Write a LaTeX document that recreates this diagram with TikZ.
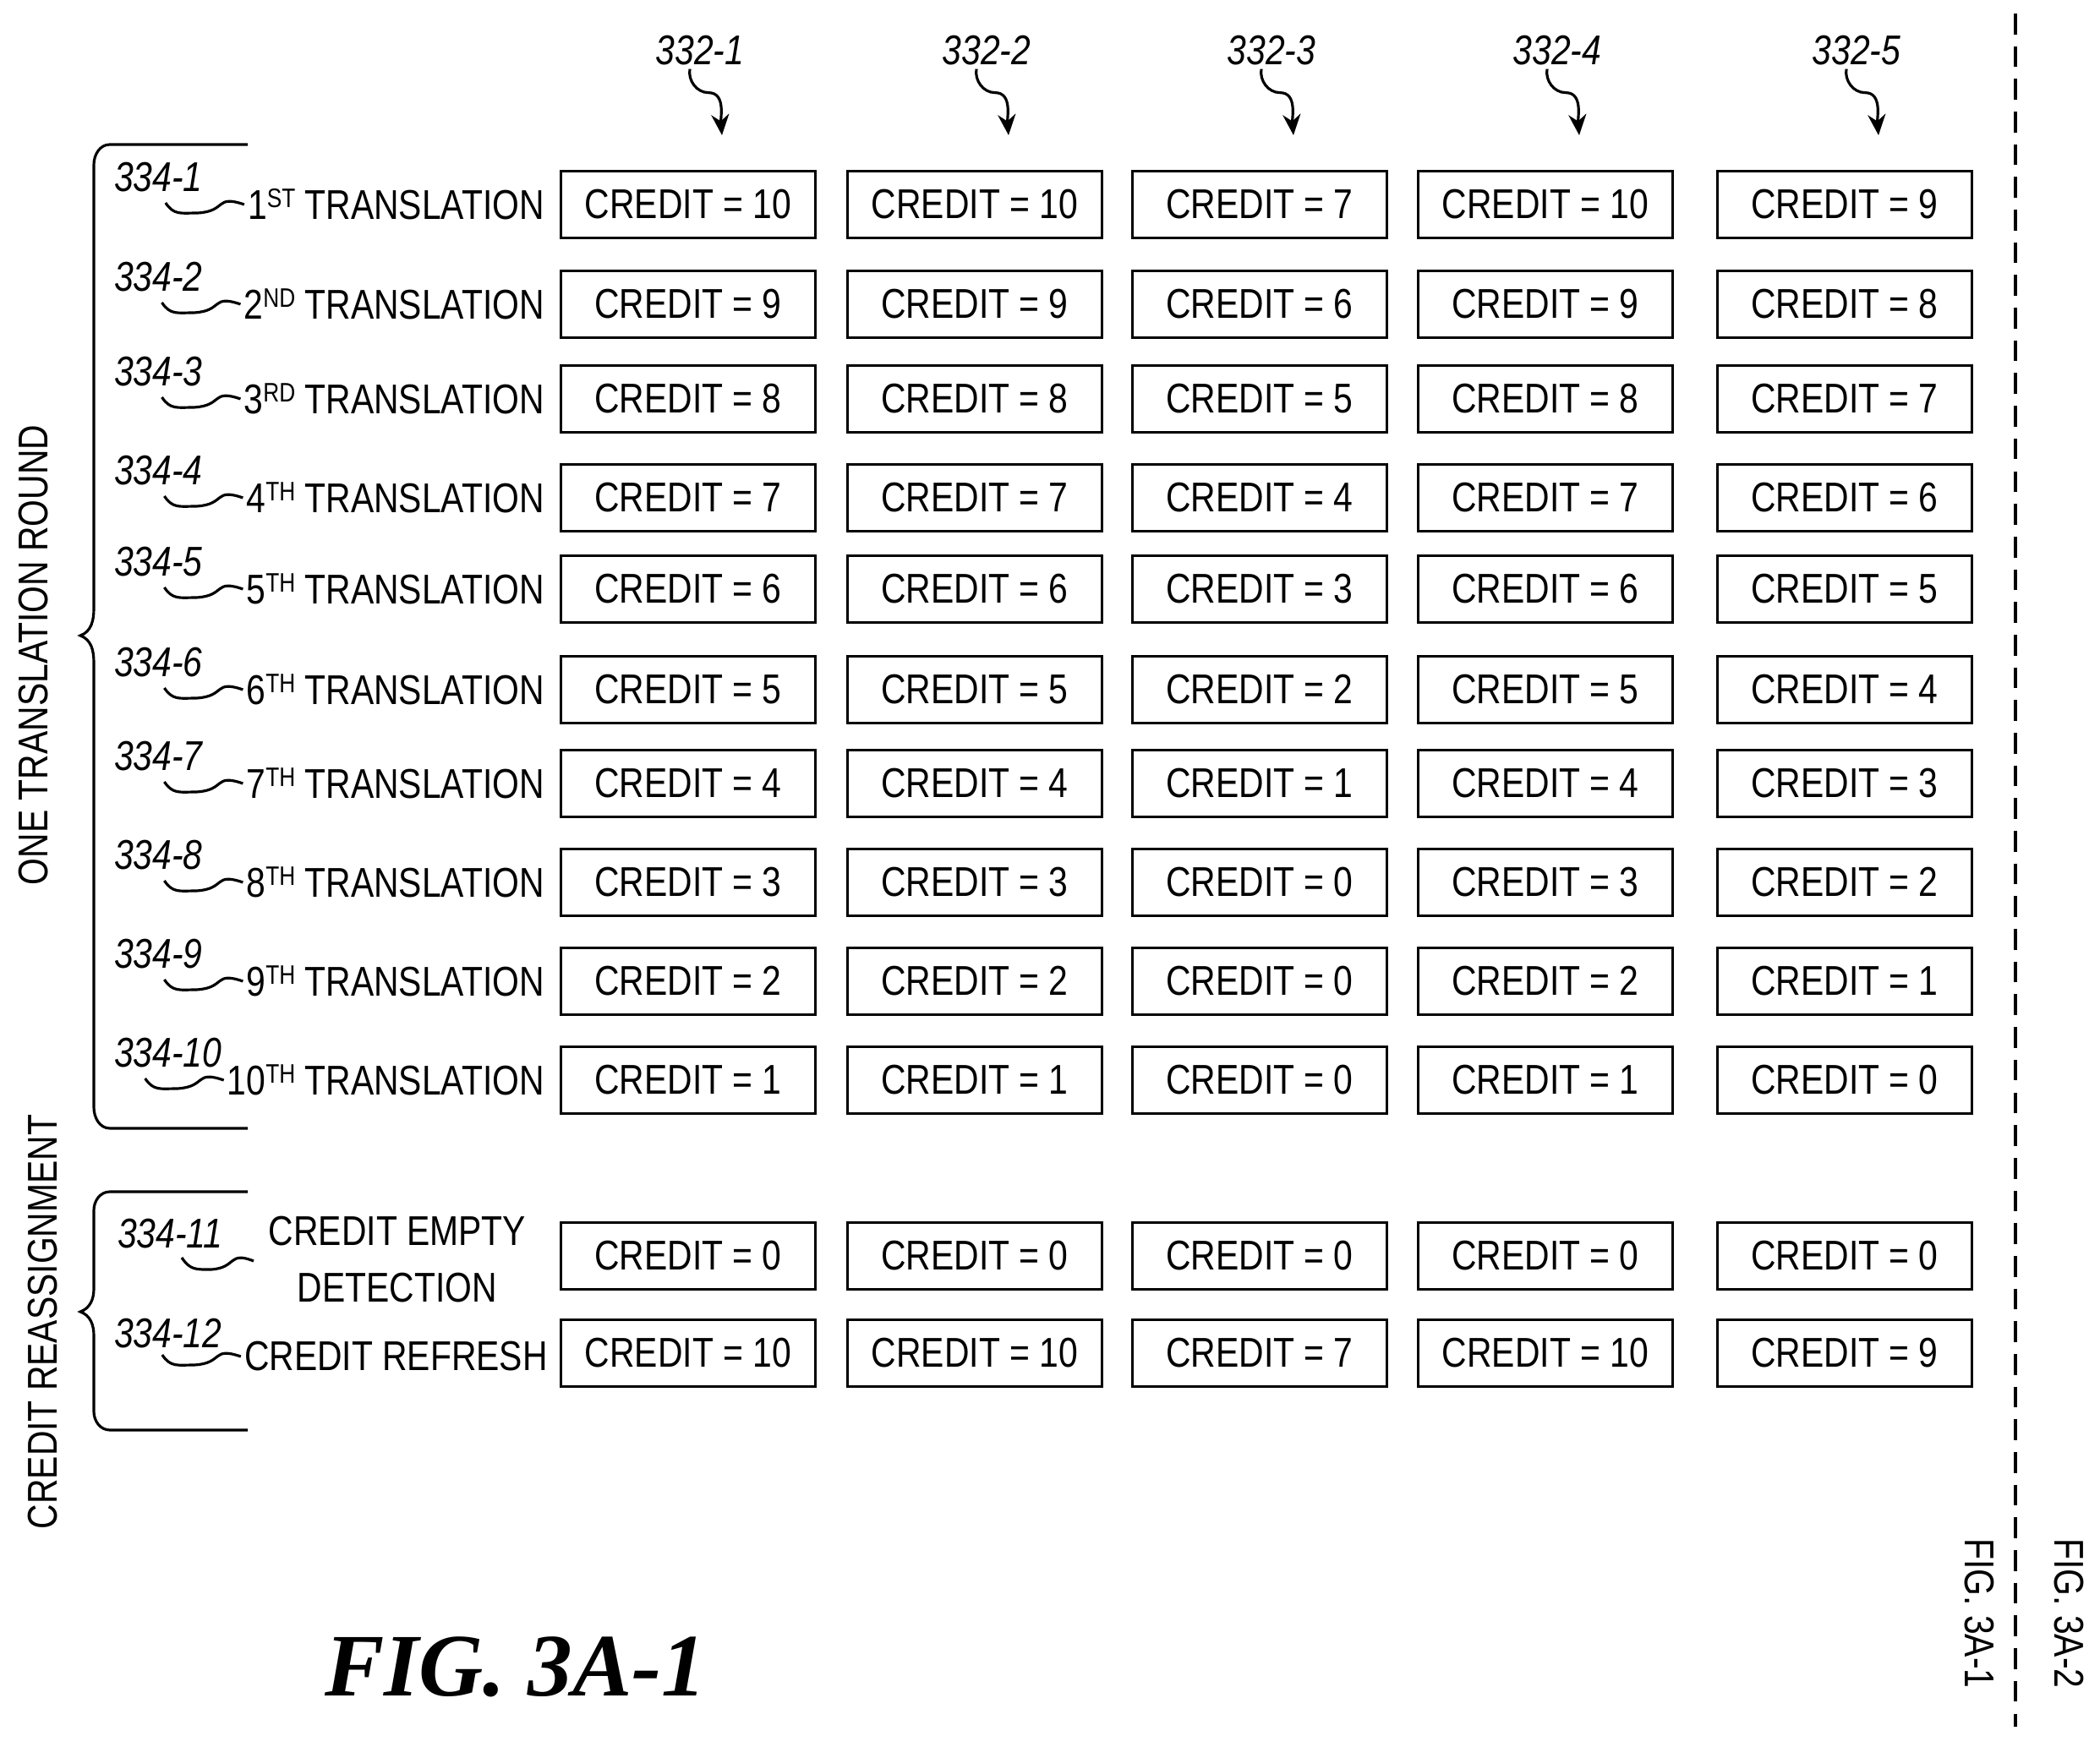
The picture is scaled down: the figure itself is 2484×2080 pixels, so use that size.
\documentclass[tikz,border=0pt]{standalone}
\usepackage{fontspec}
\setmainfont{Liberation Sans}[FakeStretch=0.83]
\newfontfamily\figfont{Liberation Serif}
\usetikzlibrary{arrows.meta}
\tikzset{
  lbl/.style={font=\fontsize{14}{16}\selectfont, inner sep=1pt},
  ref/.style={font=\fontsize{14}{16}\selectfont\itshape, inner sep=1pt},
  cbox/.style={draw, line width=0.9pt, minimum width=3.01cm, minimum height=0.79cm, font=\fontsize{14}{16}\selectfont, inner sep=0pt},
  squig/.style={line width=0.9pt},
  brace/.style={line width=0.9pt}
}
\newcommand{\sups}[1]{\raisebox{0.55ex}{\fontsize{9}{10}\selectfont #1}}
\begin{document}
\begin{tikzpicture}[x=0.01cm,y=-0.01cm]
\useasboundingbox (0,0) rectangle (2484,2080);
% columns
\foreach \cx [count=\c] in {814,1153,1490,1828,2182}{
  \node[ref] (h\c) at (\cx+14,60) {332-\c};
  \coordinate (ha\c) at (\cx+40,160);
  \draw[squig,-{Stealth[length=7pt,width=6pt]}] ([xshift=-0.12cm]h\c.south) to[out=-100,in=180] ++(22,28) to[out=0,in=95] (ha\c);
}
% rows
\foreach \ry/\n/\su/\vals in {
 242/1/ST/{10,10,7,10,9},
 360/2/ND/{9,9,6,9,8},
 472/3/RD/{8,8,5,8,7},
 589/4/TH/{7,7,4,7,6},
 697/5/TH/{6,6,3,6,5},
 816/6/TH/{5,5,2,5,4},
 927/7/TH/{4,4,1,4,3},
 1044/8/TH/{3,3,0,3,2},
 1161/9/TH/{2,2,0,2,1},
 1278/10/TH/{1,1,0,1,0}}{
  \node[lbl, anchor=east] (t\n) at (648,\ry) {\n\sups{\su} TRANSLATION};
  \node[ref, anchor=west] (r\n) at (131,\ry-32) {334-\n};
  \draw[squig] (t\n.west) .. controls ++(-35,-12) and ++(35,-2) .. ++(-55,10) .. controls ++(-20,0) and ++(10,15) .. ++(-38,-12);
  \foreach \v [count=\c] in \vals {
    \pgfmathsetmacro\cx{{814,1153,1490,1828,2182}[\c-1]}
    \node[cbox] (b\n-\c) at (\cx,\ry) {CREDIT = \v};
  }
}
% credit reassignment rows
\node[lbl, align=center] (t11) at (470,1490) {CREDIT EMPTY\\[0.1cm]DETECTION};
\node[ref, anchor=west] (r11) at (135,1460) {334-11};
\coordinate (s11) at (300,1492);
\draw[squig] (s11) .. controls ++(-30,-12) and ++(30,-2) .. ++(-50,10) .. controls ++(-18,0) and ++(10,15) .. ++(-35,-14);
\node[lbl, anchor=east] (t12) at (652,1605) {CREDIT REFRESH};
\node[ref, anchor=west] (r12) at (131,1578) {334-12};
\draw[squig] (t12.west) .. controls ++(-35,-12) and ++(35,-2) .. ++(-55,10) .. controls ++(-20,0) and ++(10,15) .. ++(-38,-12);
\foreach \ry/\n/\vals in {1486/11/{0,0,0,0,0},1601/12/{10,10,7,10,9}}{
  \foreach \v [count=\c] in \vals {
    \pgfmathsetmacro\cx{{814,1153,1490,1828,2182}[\c-1]}
    \node[cbox] (b\n-\c) at (\cx,\ry) {CREDIT = \v};
  }
}
% braces
\draw[brace] (293,171) -- (130,171) to[out=180,in=90] (111,195) -- (111,720) to[out=-90,in=20] (95,752) to[out=-20,in=90] (111,784) -- (111,1310) to[out=-90,in=180] (130,1335) -- (293,1335);
\node[lbl, rotate=90] (g1) at (40,775) {ONE TRANSLATION ROUND};
\draw[brace] (293,1410) -- (130,1410) to[out=180,in=90] (111,1432) -- (111,1525) to[out=-90,in=20] (95,1552) to[out=-20,in=90] (111,1580) -- (111,1670) to[out=-90,in=180] (130,1692) -- (293,1692);
\node[lbl, rotate=90] (g2) at (51,1564) {CREDIT REASSIGNMENT};
% dashed divider
\coordinate (d1) at (2384,16);
\coordinate (d2) at (2384,2043);
\draw[line width=1.1pt, dash pattern=on 7pt off 4pt] (d1) -- (d2);
\node[lbl, rotate=-90] (f1) at (2341,1909) {FIG. 3A-1};
\node[lbl, rotate=-90] (f2) at (2447,1909) {FIG. 3A-2};
\node[font=\fontsize{30}{34}\selectfont\figfont\bfseries\itshape] (fig) at (610,1972) {FIG. 3A-1};
\end{tikzpicture}
\end{document}
